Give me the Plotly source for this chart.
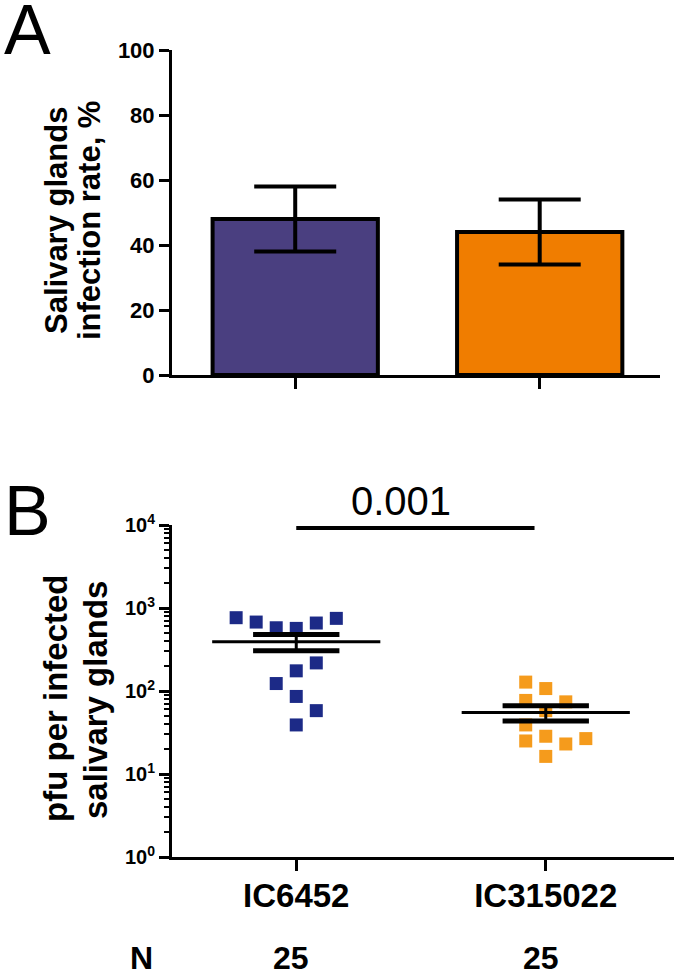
import plotly.graph_objects as go

# ---- data ----
groups = ["IC6452", "IC315022"]
n_mosquitoes = ["25", "25"]

# panel A: salivary gland infection rate (%) with error
infection_rate = [48, 44]
infection_err = [10, 10]

# panel B: pfu per infected salivary glands (individual glands)
ic6452_pfu = [764, 677, 578, 568, 659, 750, 218, 175, 123, 86, 58, 39]
ic6452_slot = [-3, -2, -1, 0, 1, 2, 1, 0, -1, 0, 1, 0]
ic315022_pfu = [128, 107, 77, 74, 58, 39, 28.5, 25, 23, 26.7, 16.3]
ic315022_slot = [-1, 0, -1, 1, 0, -1, 0, -1, 1, 2, 0]

pfu_mean = [392, 55]
pfu_sem = [86, 11.5]
p_value = "0.001"

BAR_COLORS = ["#4a3f80", "#f07d00"]
DOT_COLORS = ["#1c2a87", "#f59b1c"]
FONT = "Liberation Sans"
W, H = 674, 975


def px(x):
    return x / W


def py(y):
    return 1 - y / H


fig = go.Figure()

# panel A bars
fig.add_trace(go.Bar(
    x=[1, 2], y=infection_rate,
    width=0.676,
    marker=dict(color=BAR_COLORS, line=dict(color="black", width=4)),
    error_y=dict(type="data", array=infection_err, visible=True,
                 color="black", thickness=4, width=41),
    xaxis="x", yaxis="y", showlegend=False,
))

# panel B individual points
step = 0.0803
for i, (vals, slots) in enumerate([(ic6452_pfu, ic6452_slot),
                                   (ic315022_pfu, ic315022_slot)]):
    fig.add_trace(go.Scatter(
        x=[i + 1 + s * step for s in slots], y=vals,
        mode="markers",
        marker=dict(symbol="square", size=13, color=DOT_COLORS[i], line=dict(width=0)),
        xaxis="x2", yaxis="y2", showlegend=False,
    ))

# mean and SEM lines
for i in range(2):
    c = i + 1
    m, s = pfu_mean[i], pfu_sem[i]
    line = dict(xaxis="x2", yaxis="y2", mode="lines", showlegend=False, hoverinfo="skip")
    fig.add_trace(go.Scatter(x=[c - 0.337, c + 0.337], y=[m, m],
                             line=dict(color="black", width=3), **line))
    for v in (m - s, m + s):
        fig.add_trace(go.Scatter(x=[c - 0.173, c + 0.173], y=[v, v],
                                 line=dict(color="black", width=5), **line))
    fig.add_trace(go.Scatter(x=[c, c], y=[m - s, m + s],
                             line=dict(color="black", width=3), **line))

# significance bar
fig.add_shape(type="line", xref="x2", yref="paper", x0=1, x1=1.955,
              y0=py(528), y1=py(528), line=dict(color="black", width=4))

ann = []
ann.append(dict(text=p_value, xref="x2", yref="paper", x=1.42, y=py(501),
                font=dict(size=40, family=FONT, color="black")))
ann.append(dict(text="A", xref="paper", yref="paper", x=px(27), y=py(30),
                font=dict(size=70, family=FONT, color="black")))
ann.append(dict(text="B", xref="paper", yref="paper", x=px(27), y=py(511),
                font=dict(size=70, family=FONT, color="black")))
# y titles
for txt, xx, yy, sz in [("Salivary glands", 56, 221, 31),
                        ("infection rate, %", 89, 221, 31),
                        ("pfu per infected", 55, 698, 33),
                        ("salivary glands", 95, 700, 33)]:
    ann.append(dict(text="<b>%s</b>" % txt, xref="paper", yref="paper",
                    x=px(xx), y=py(yy), textangle=-90,
                    font=dict(size=sz, family=FONT, color="black")))
# N row
ann.append(dict(text="<b>N</b>", xref="paper", yref="paper", x=px(141), y=py(958),
                font=dict(size=32, family=FONT, color="black")))
for i, n in enumerate(n_mosquitoes):
    ann.append(dict(text="<b>%s</b>" % n, xref="x2", yref="paper", x=i + 0.98, y=py(958),
                    font=dict(size=32, family=FONT, color="black")))
for a in ann:
    a.update(showarrow=False, xanchor="center", yanchor="middle")

axis_common = dict(showline=True, linecolor="black", linewidth=3, showgrid=False,
                   zeroline=False, ticks="outside", tickcolor="black", tickwidth=3,
                   automargin=False)

minor_vals = [k * 10 ** n for n in range(4) for k in range(2, 10)]

fig.update_layout(
    width=W, height=H,
    margin=dict(l=0, r=0, t=0, b=0, pad=0),
    paper_bgcolor="white", plot_bgcolor="white",
    font=dict(family=FONT, color="black"),
    annotations=ann,
    xaxis=dict(domain=[px(172), px(660)], range=[0.496, 2.492],
               tickvals=[1, 2], showticklabels=False, ticklen=11,
               anchor="y", **axis_common),
    yaxis=dict(domain=[py(375), py(50)], range=[0, 100], tickvals=[0, 20, 40, 60, 80, 100],
               ticklen=10, tickfont=dict(size=22, family=FONT, weight="bold"),
               anchor="x", **axis_common),
    xaxis2=dict(domain=[px(172), 1.0], range=[0.502, 2.514],
                tickvals=[1, 2], ticktext=["<b>%s</b>" % g for g in groups],
                ticklen=11, ticklabelstandoff=-4, tickfont=dict(size=33, family=FONT),
                anchor="y2", **axis_common),
    yaxis2=dict(domain=[py(857), py(525)], type="log", range=[0, 4],
                tickvals=[1, 10, 100, 1000, 10000],
                ticktext=["<b>10<sup>%d</sup></b>" % k for k in range(5)],
                ticklen=10, tickfont=dict(size=20, family=FONT),
                minor=dict(tickvals=minor_vals, ticks="outside", ticklen=5,
                           tickwidth=2, tickcolor="black", showgrid=False),
                anchor="x2", **axis_common),
)

# the page's default body margin would push the figure 8px down and right
fig.write_html("out.html", config={"displayModeBar": False},
               post_script="document.body.style.margin = '0px';")
